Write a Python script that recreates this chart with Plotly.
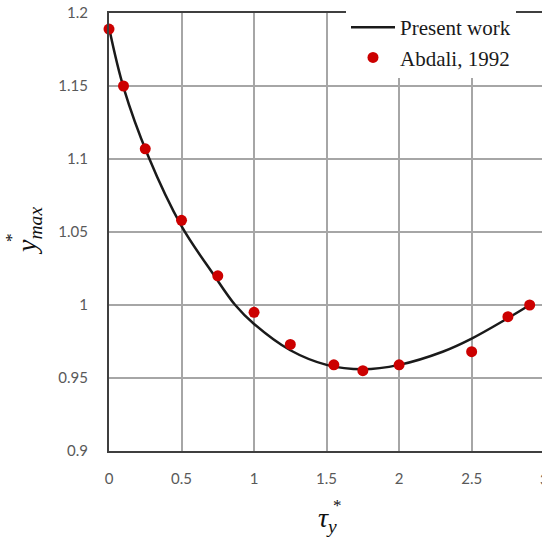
import plotly.graph_objects as go

# Present work: computed y*_max against tau*_y
tau_curve = [0.0, 0.1, 0.27, 0.5, 0.72, 0.87, 1.0, 1.25, 1.5, 1.75, 2.0, 2.3, 2.5, 2.75, 2.9]
ymax_curve = [1.190, 1.149, 1.102, 1.054, 1.021, 1.000, 0.987, 0.969, 0.959, 0.956,
              0.959, 0.968, 0.977, 0.991, 1.000]

# Abdali, 1992
tau_ref = [0.0, 0.1, 0.25, 0.5, 0.75, 1.0, 1.25, 1.55, 1.75, 2.0, 2.5, 2.75, 2.9]
ymax_ref = [1.189, 1.150, 1.107, 1.058, 1.020, 0.995, 0.973, 0.959, 0.955, 0.959,
            0.968, 0.992, 1.000]

x_ticks = [0, 0.5, 1, 1.5, 2, 2.5, 3]
x_tick_text = ["0", "0.5", "1", "1.5", "2", "2.5", "3"]
y_ticks = [0.9, 0.95, 1.0, 1.05, 1.1, 1.15, 1.2]
y_tick_text = ["0.9", "0.95", "1", "1.05", "1.1", "1.15", "1.2"]

W, H = 542, 537
L, R, T, B = 109, 0, 13, 86
PW, PH = W - L - R, H - T - B

def px_to_paper(px, py):
    return (px - L) / PW, (H - B - py) / PH

tick_font = dict(family="Lato", size=15, color="#595959")
serif = "Liberation Serif"

fig = go.Figure()
fig.add_trace(go.Scatter(
    x=tau_curve, y=ymax_curve, mode="lines", name="Present work",
    line=dict(color="#1a1a1a", width=2.5, shape="spline", smoothing=1.0),
))
fig.add_trace(go.Scatter(
    x=tau_ref, y=ymax_ref, mode="markers", name="Abdali, 1992",
    marker=dict(color="#cc0000", size=11, line=dict(width=0)),
    cliponaxis=False,
))

annotations = []
# tick label for x = 3 sits just beyond the right edge of the plot area
ax3, ay3 = px_to_paper(544, 479)
annotations.append(dict(text=x_tick_text[-1], x=ax3, y=ay3, xref="paper", yref="paper",
                        showarrow=False, xanchor="center", yanchor="middle", font=tick_font))

# y-axis title: y*_max
tx, ty = px_to_paper(28, 231)
annotations.append(dict(text="<i>y</i><sub><i>max</i></sub>", x=tx, y=ty, xref="paper", yref="paper",
                        showarrow=False, textangle=-90, xanchor="center", yanchor="middle",
                        font=dict(family=serif, size=28, color="#111111")))
sx, sy = px_to_paper(11, 238)
annotations.append(dict(text="*", x=sx, y=sy, xref="paper", yref="paper",
                        showarrow=False, textangle=-90, xanchor="center", yanchor="middle",
                        font=dict(family=serif, size=17, color="#111111")))

# x-axis title: tau*_y
tx, ty = px_to_paper(327, 519)
annotations.append(dict(text="<i>τ</i><sub><i>y</i></sub>", x=tx, y=ty, xref="paper", yref="paper",
                        showarrow=False, xanchor="center", yanchor="middle",
                        font=dict(family=serif, size=28, color="#111111")))
sx, sy = px_to_paper(337, 505)
annotations.append(dict(text="*", x=sx, y=sy, xref="paper", yref="paper",
                        showarrow=False, xanchor="center", yanchor="middle",
                        font=dict(family=serif, size=17, color="#111111")))

lx, ly = px_to_paper(346, 7)
fig.update_layout(
    width=W, height=H,
    margin=dict(l=L, r=R, t=T, b=B, pad=0),
    paper_bgcolor="white", plot_bgcolor="white",
    showlegend=True,
    legend=dict(x=lx, y=ly, xref="paper", yref="paper", xanchor="left", yanchor="top",
                bgcolor="white", borderwidth=0, tracegroupgap=0, itemwidth=44,
                font=dict(family=serif, size=21, color="#1a1a1a")),
    xaxis=dict(range=[0, 2.985], tickvals=x_ticks, ticktext=x_tick_text,
               showgrid=True, gridcolor="#a6a6a6", gridwidth=1.5,
               showline=True, linecolor="#3f3f3f", linewidth=2, mirror=True,
               zeroline=False, ticks="", ticklabelstandoff=13, tickfont=tick_font),
    yaxis=dict(range=[0.9, 1.2], tickvals=y_ticks, ticktext=y_tick_text,
               showgrid=True, gridcolor="#a6a6a6", gridwidth=1.5,
               showline=True, linecolor="#3f3f3f", linewidth=2, mirror=False,
               zeroline=False, ticks="", ticklabelstandoff=16, tickfont=tick_font),
    annotations=annotations,
)

fig.write_html("out.html")
